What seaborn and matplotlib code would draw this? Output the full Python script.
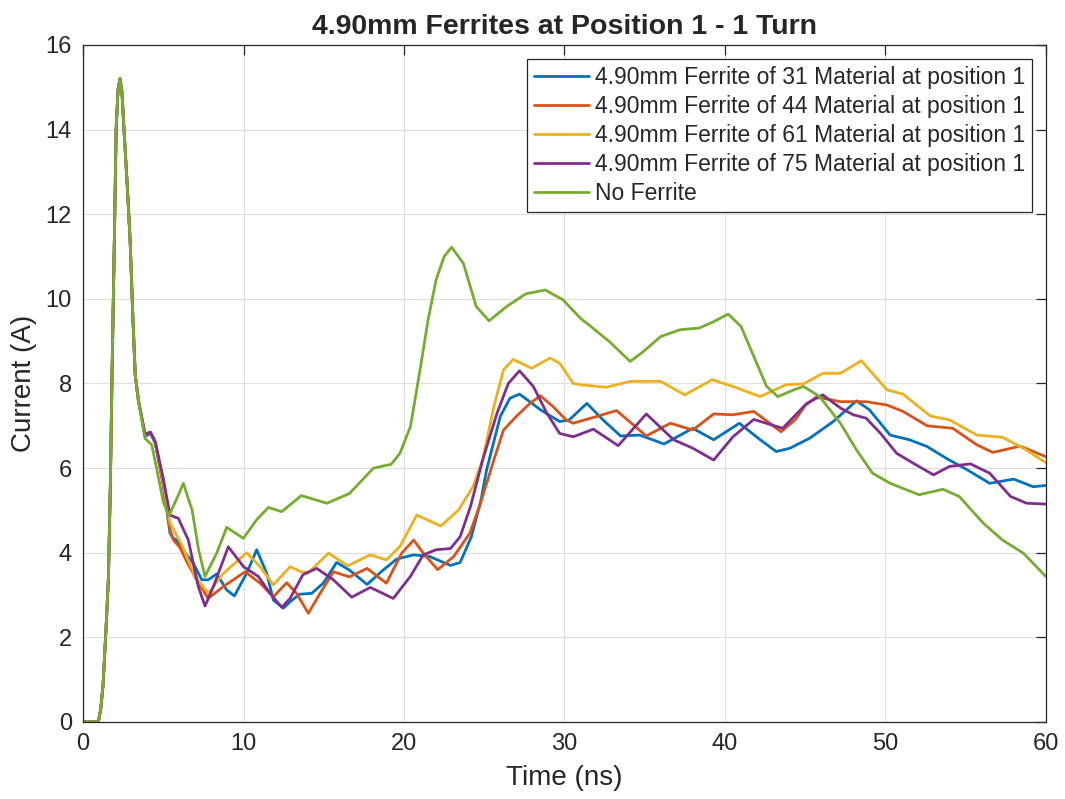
import numpy as np
import pandas as pd
import matplotlib
matplotlib.use("Agg")
import matplotlib.pyplot as plt
import seaborn as sns

# shared leading edge (all five traces coincide up to ~3.5 ns)
t_rise = [0, 0.95, 1.1, 1.25, 1.43, 1.58, 1.7, 1.8, 1.95, 2.06, 2.18, 2.3, 2.42, 2.55, 2.75, 2.93, 3.1,
          3.25, 3.45]
i_rise = [0, 0, 0.3, 0.9, 2.2, 3.4, 5.6, 8.1, 11.4, 14.0, 14.95, 15.2, 14.9, 14.0, 12.7, 11.4, 9.6,
          8.2, 7.6]

t_31 = [3.86, 4.2, 4.5, 5.0, 5.42, 5.63, 5.84, 6.25, 6.87, 7.4, 7.8, 8.33, 8.95, 9.43, 10.2, 10.82,
        11.44, 11.86, 12.48, 12.9, 13.5, 14.25, 14.97, 15.8, 16.6, 17.7, 18.7, 19.55, 20.6, 21.6, 22.9,
        23.5, 24.2, 24.8, 25.15, 26.0, 26.6, 27.2, 28.5, 29.7, 30.3, 31.4, 32.4, 33.5, 34.7, 36.2, 38.0,
        39.3, 40.9, 42.2, 43.2, 44.05, 45.3, 46.75, 48.2, 49.0, 50.3, 51.5, 52.6, 53.8, 55.1, 56.5, 58.0,
        59.2, 60]
i_31 = [6.75, 6.82, 6.59, 5.6, 4.46, 4.34, 4.3, 4.05, 3.75, 3.36, 3.36, 3.5, 3.12, 2.98, 3.52, 4.07,
        3.52, 2.88, 2.69, 2.84, 3.02, 3.04, 3.28, 3.77, 3.59, 3.25, 3.59, 3.85, 3.95, 3.91, 3.7,
        3.77, 4.38, 5.25, 5.96, 7.22, 7.65, 7.75, 7.38, 7.1, 7.14, 7.53, 7.14, 6.76, 6.78, 6.57, 6.94,
        6.67, 7.06, 6.67, 6.39, 6.47, 6.71, 7.1, 7.59, 7.38, 6.78, 6.67, 6.51, 6.23, 5.96, 5.64, 5.74,
        5.56, 5.59]

t_44 = [3.86, 4.2, 4.5, 5.0, 5.42, 5.63, 6.04, 6.46, 7.08, 7.8, 8.74, 10.1, 11.03, 11.86, 12.69, 13.3,
        14.04, 14.77, 15.6, 16.6, 17.7, 18.9, 19.86, 20.6, 21.2, 22.1, 23.1, 24.1, 24.7, 25.6, 26.2,
        27.0, 27.85, 28.5, 29.3, 30.1, 30.55, 32.0, 33.25, 35.1, 36.6, 38.0, 39.3, 40.5, 41.8, 43.5,
        44.4, 45.0, 45.7, 47.2, 48.8, 50.1, 51.1, 52.6, 54.2, 55.7, 56.7, 58.4, 60]
i_44 = [6.8, 6.85, 6.6, 5.6, 4.54, 4.3, 4.12, 3.79, 3.36, 2.92, 3.2, 3.55, 3.28, 2.96, 3.29, 3.04,
        2.57, 3.04, 3.55, 3.43, 3.63, 3.28, 3.99, 4.3, 3.99, 3.6, 3.91, 4.46, 5.09, 6.19, 6.9,
        7.22, 7.53, 7.71, 7.45, 7.14, 7.06, 7.22, 7.36, 6.76, 7.06, 6.9, 7.28, 7.26, 7.34, 6.86,
        7.15, 7.48, 7.68, 7.57, 7.57, 7.49, 7.34, 7.0, 6.94, 6.55, 6.37, 6.52, 6.27]

t_61 = [3.86, 4.2, 4.5, 5.0, 5.42, 6.2, 6.98, 7.8, 8.74, 10.2, 11.03, 11.86, 12.9, 13.6, 14.04, 15.3,
        16.5, 17.9, 18.9, 19.75, 20.8, 22.3, 23.4, 24.3, 24.9, 25.6, 26.2, 26.8, 27.95, 29.1, 29.7,
        30.55, 31.0, 32.6, 34.1, 36.0, 37.5, 39.2, 40.5, 42.2, 43.8, 44.9, 46.1, 47.2, 48.5, 50.1,
        51.1, 52.8, 54.0, 55.7, 57.3, 58.6, 60]
i_61 = [6.8, 6.85, 6.62, 5.7, 4.7, 4.15, 3.44, 3.04, 3.51, 4.0, 3.67, 3.24, 3.67, 3.55, 3.53, 3.99,
        3.69, 3.95, 3.83, 4.15, 4.89, 4.63, 5.01, 5.56, 6.19, 7.45, 8.32, 8.57, 8.36, 8.6, 8.48,
        8.0, 7.97, 7.91, 8.05, 8.05, 7.73, 8.09, 7.93, 7.69, 7.97, 7.99, 8.24, 8.24, 8.54, 7.85,
        7.75, 7.23, 7.14, 6.78, 6.73, 6.47, 6.13]

t_75 = [3.86, 4.2, 4.5, 5.0, 5.42, 5.94, 6.56, 7.18, 7.6, 8.12, 9.05, 10.0, 10.92, 11.65, 12.38, 12.9,
        13.7, 14.56, 15.6, 16.74, 17.9, 19.33, 20.4, 21.2, 22.0, 22.9, 23.5, 24.15, 24.9, 25.8, 26.5,
        27.2, 28.06, 28.9, 29.7, 30.55, 31.8, 33.35, 35.1, 36.8, 38.0, 39.3, 40.5, 41.8, 43.6, 45.1,
        46.1, 47.2, 48.0, 48.8, 49.7, 50.7, 51.9, 53.0, 54.0, 55.3, 56.5, 57.8, 58.8, 60]
i_75 = [6.8, 6.85, 6.62, 5.75, 4.89, 4.81, 4.3, 3.2, 2.74, 3.2, 4.14, 3.67, 3.44, 3.04, 2.71, 2.92,
        3.48, 3.63, 3.36, 2.95, 3.18, 2.92, 3.44, 3.95, 4.07, 4.1, 4.38, 5.1, 6.19, 7.3, 8.0,
        8.3, 7.93, 7.3, 6.82, 6.74, 6.92, 6.53, 7.28, 6.67, 6.47, 6.19, 6.74, 7.15, 6.94, 7.53,
        7.73, 7.42, 7.26, 7.18, 6.82, 6.35, 6.08, 5.84, 6.04, 6.1, 5.88, 5.33, 5.17, 5.15]

t_none = [3.86, 4.28, 4.6, 5.0, 5.35, 5.75, 6.25, 6.8, 7.2, 7.6, 8.33, 8.95, 9.99, 10.82, 11.55, 12.38,
          13.6, 15.2, 16.6, 18.1, 19.2, 19.75, 20.4, 21.0, 21.5, 22.0, 22.5, 22.97, 23.7, 24.5, 25.3,
          26.4, 27.6, 28.8, 29.9, 31.0, 31.8, 32.8, 34.1, 34.9, 36.0, 37.2, 38.4, 39.3, 40.2, 41.0,
          41.8, 42.6, 43.3, 44.3, 44.9, 45.9, 47.2, 48.2, 49.2, 50.3, 52.1, 53.6, 54.6, 56.1, 57.3,
          58.6, 60]
i_none = [6.7, 6.55, 5.96, 5.2, 4.88, 5.2, 5.64, 5.0, 4.07, 3.44, 3.99, 4.6, 4.34, 4.78, 5.07, 4.97,
          5.35, 5.17, 5.4, 6.0, 6.09, 6.35, 6.98, 8.32, 9.5, 10.45, 11.0, 11.22, 10.84, 9.82, 9.48,
          9.82, 10.12, 10.21, 9.98, 9.54, 9.3, 8.99, 8.52, 8.75, 9.11, 9.27, 9.31, 9.46, 9.64, 9.35,
          8.64, 7.93, 7.69, 7.85, 7.93, 7.69, 7.06, 6.43, 5.88, 5.64, 5.37, 5.5, 5.33, 4.7, 4.3,
          3.99, 3.44]

labels = ["4.90mm Ferrite of 31 Material at position 1",
          "4.90mm Ferrite of 44 Material at position 1",
          "4.90mm Ferrite of 61 Material at position 1",
          "4.90mm Ferrite of 75 Material at position 1",
          "No Ferrite"]
colors = ["#0072BD", "#D95319", "#EDB120", "#7E2F8E", "#77AC30"]

# long-form table for seaborn
frames = []
for lab, tt, ii in zip(labels, [t_31, t_44, t_61, t_75, t_none], [i_31, i_44, i_61, i_75, i_none]):
    frames.append(pd.DataFrame({"Time": t_rise + tt, "Current": i_rise + ii, "series": lab}))
df = pd.concat(frames, ignore_index=True)

sns.set_theme(style="white")
plt.rcParams['font.family'] = ['Liberation Sans', 'DejaVu Sans']

fig = plt.figure(figsize=(10.65, 7.99), dpi=100)
ax = fig.add_axes([0.078, 0.0964, 0.904, 0.8473])

sns.lineplot(data=df, x="Time", y="Current", hue="series", hue_order=labels,
             palette=colors, sort=False, estimator=None, linewidth=2.0, ax=ax)

ax.set_xlim(0, 60)
ax.set_ylim(0, 16)
ax.set_xticks(range(0, 61, 10))
ax.set_yticks(range(0, 17, 2))
ax.grid(True, color="#dedede", linewidth=0.8)
ax.set_axisbelow(True)
for s in ax.spines.values():
    s.set_color("#262626")
    s.set_linewidth(0.9)
ax.tick_params(direction="in", length=7.5, width=0.9, color="#262626",
               top=True, right=True, labelsize=17, labelcolor="#262626", pad=8)

ax.set_xlabel("Time (ns)", fontsize=20, color="#262626", labelpad=7)
ax.set_ylabel("Current (A)", fontsize=20, color="#262626", labelpad=6)
ax.set_title("4.90mm Ferrites at Position 1 - 1 Turn", fontsize=20.5, fontweight="bold", pad=8)

leg = ax.legend(loc="upper right", fontsize=16.5, frameon=True, fancybox=False, framealpha=1,
                edgecolor="#262626", handlelength=2.4, handletextpad=0.25, borderaxespad=0.6,
                labelspacing=0.27, borderpad=0.3)
leg.get_frame().set_linewidth(0.9)
for h in leg.get_lines():
    h.set_linewidth(2.0)

fig.savefig("out.png", dpi=100)
